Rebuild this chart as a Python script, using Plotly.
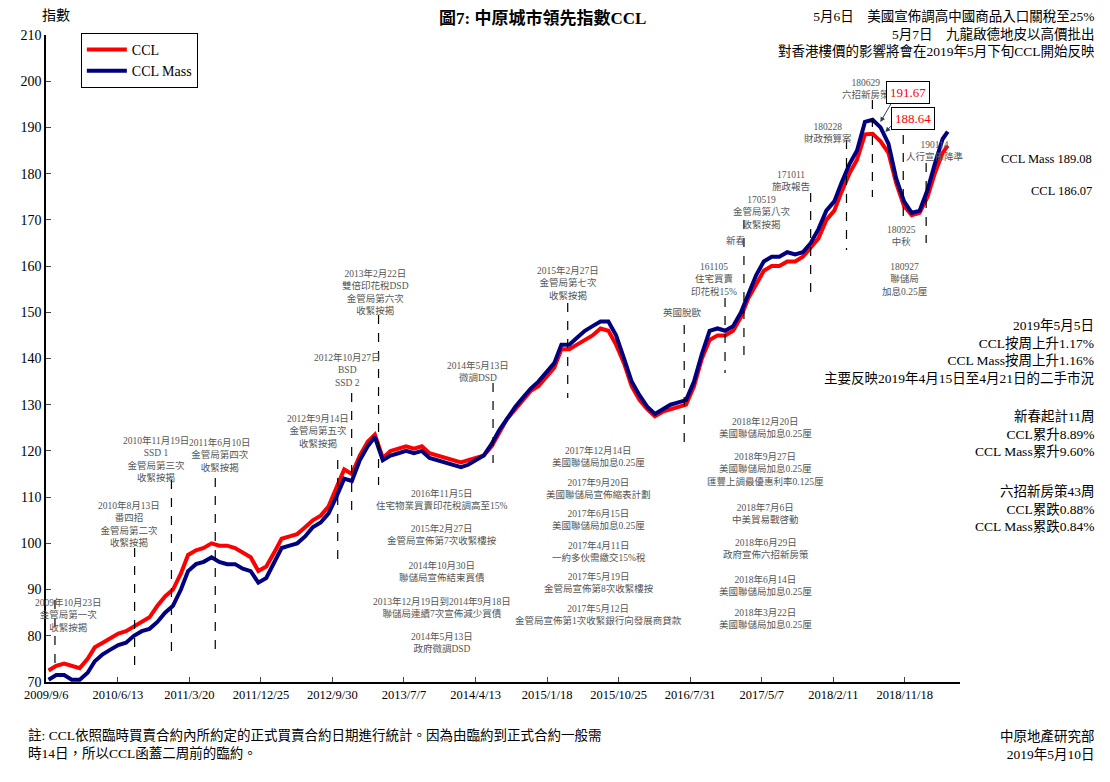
import pandas as pd
import plotly.graph_objects as go

# monthly readings (mid-month), last point is the week of 2019/5/5
months = list(pd.date_range("2009-09-01", "2019-04-01", freq="MS") + pd.Timedelta(days=14))
dates = months + [pd.Timestamp("2019-05-05")]

ccl = [72.5, 73.5, 74, 73.5,
       73, 75, 77.5, 78.5, 79.5, 80.5, 81, 82, 83, 84, 86.5, 88.5,
       90, 93.5, 97.5, 98.5, 99, 100, 99.5, 99.5, 99, 98, 97, 94,
       95, 98, 101, 101.5, 102, 103.5, 105, 106, 108, 112, 116, 115,
       119, 122, 123.5, 118.5, 120, 120.5, 121, 120.5, 121, 119.5, 119, 118.5,
       118, 117.5, 118, 118.5, 119, 121, 124, 127, 129, 131, 133, 134,
       136, 138, 142, 142, 143, 144, 145, 146.5, 146, 143, 139, 134,
       131, 129, 127.5, 128.5, 129, 129.5, 130, 134, 140, 144, 145, 145,
       146, 149, 153, 156, 159, 160, 160, 161, 161, 162, 164, 166,
       170, 172, 176, 180, 183, 188.5, 188.64, 187, 184.5, 178, 173, 171,
       171.5, 175, 180, 184.5, 186.07]

ccl_mass = [70.5, 71.5, 71.5, 70.5,
            70.5, 72, 74.5, 76, 77, 78, 78.5, 80, 81, 81.5, 83, 85,
            86.5, 90, 94, 95.5, 96, 97, 96, 95.5, 95.5, 94.5, 94, 91.5,
            92.5, 96, 99, 99.5, 100, 101.5, 103.5, 104.5, 106.5, 110, 114, 113.5,
            118, 121, 123, 118, 119, 119.5, 120, 119.5, 120, 118.5, 118, 117.5,
            117, 116.5, 117, 118, 119, 121.5, 124.5, 127, 129.5, 131.5, 133.5, 135,
            137, 139, 143, 143, 144.5, 146, 147, 148, 148, 145, 140, 135,
            132, 129.5, 128, 129, 130, 130.5, 131, 135, 141, 146, 146.5, 146,
            147, 150, 154, 158, 161, 162, 162, 163, 162.5, 163, 165, 168,
            172, 174, 178, 182, 185, 191.2, 191.67, 190, 186.5, 179, 174, 171.5,
            172, 176.5, 182, 187.5, 189.08]

tick_dates = ["2009-09-06", "2010-06-13", "2011-03-20", "2011-12-25", "2012-09-30",
              "2013-07-07", "2014-04-13", "2015-01-18", "2015-10-25", "2016-07-31",
              "2017-05-07", "2018-02-11", "2018-11-18"]
tick_text = ["2009/9/6", "2010/6/13", "2011/3/20", "2011/12/25", "2012/9/30",
             "2013/7/7", "2014/4/13", "2015/1/18", "2015/10/25", "2016/7/31",
             "2017/5/7", "2018/2/11", "2018/11/18"]

FONT = "Times New Roman, Liberation Serif, Noto Sans CJK TC"
GREY = "#555555"

# plot area in pixels (page has an 8px body margin)
L, R, T, B = 42, 960, 35, 682
PAD = 8


def px(x):
    return (x - L) / (R - L)


def py(y):
    return (B - y) / (B - T)


fig = go.Figure()
fig.add_trace(go.Scatter(x=dates, y=ccl, name="CCL", mode="lines",
                         line=dict(color="#ff0000", width=4)))
fig.add_trace(go.Scatter(x=dates, y=ccl_mass, name="CCL Mass", mode="lines",
                         line=dict(color="#000080", width=4)))

annotations = []


def note(x, y, text, size=10, color=GREY, align="center", xanchor="center"):
    annotations.append(dict(x=px(x), y=py(y), xref="paper", yref="paper", text=text,
                            showarrow=False, xanchor=xanchor, yanchor="top", align=align,
                            font=dict(size=size, color=color, family=FONT)))


# event labels (center x, top y)
events = [
    (65, 595, "2009年10月23日<br>金管局第一次<br>收緊按揭"),
    (125, 498, "2010年8月13日<br>番四招<br>金管局第二次<br>收緊按揭"),
    (152, 433, "2010年11月19日<br>SSD 1<br>金管局第三次<br>收緊按揭"),
    (216, 435, "2011年6月10日<br>金管局第四次<br>收緊按揭"),
    (315, 411, "2012年9月14日<br>金管局第五次<br>收緊按揭"),
    (345, 350, "2012年10月27日<br>BSD<br>SSD 2"),
    (373, 266, "2013年2月22日<br>雙倍印花稅DSD<br>金管局第六次<br>收緊按揭"),
    (476, 358, "2014年5月13日<br>微調DSD"),
    (566, 263, "2015年2月27日<br>金管局第七次<br>收緊按揭"),
    (681, 305, "英國脫歐"),
    (713, 260, "161105<br>住宅買賣<br>印花稅15%"),
    (735, 233, "新春"),
    (761, 193, "170519<br>金管局第八次<br>收緊按揭"),
    (790, 168, "171011<br>施政報告"),
    (827, 120, "180228<br>財政預算案"),
    (866, 76, "180629<br>六招新房策"),
    (901, 223, "180925<br>中秋"),
    (905, 260, "180927<br>聯儲局<br>加息0.25厘"),
    (935, 138, "190114<br>人行宣佈降準"),
    (440, 486, "2016年11月5日<br>住宅物業買賣印花稅調高至15%"),
    (440, 521, "2015年2月27日<br>金管局宣佈第7次收緊樓按"),
    (440, 558, "2014年10月30日<br>聯儲局宣佈結束買債"),
    (440, 594, "2013年12月19日到2014年9月18日<br>聯儲局連續7次宣佈減少買債"),
    (440, 629, "2014年5月13日<br>政府微調DSD"),
    (597, 443, "2017年12月14日<br>美國聯儲局加息0.25厘"),
    (597, 475, "2017年9月20日<br>美國聯儲局宣佈縮表計劃"),
    (597, 506, "2017年6月15日<br>美國聯儲局加息0.25厘"),
    (597, 538, "2017年4月11日<br>一約多伙需繳交15%稅"),
    (597, 569, "2017年5月19日<br>金管局宣佈第8次收緊樓按"),
    (597, 601, "2017年5月12日<br>金管局宣佈第1次收緊銀行向發展商貸款"),
    (765, 414, "2018年12月20日<br>美國聯儲局加息0.25厘"),
    (765, 449, "2018年9月27日<br>美國聯儲局加息0.25厘<br>匯豐上調最優惠利率0.125厘"),
    (765, 500, "2018年7月6日<br>中美貿易戰啓動"),
    (765, 535, "2018年6月29日<br>政府宣佈六招新房策"),
    (765, 572, "2018年6月14日<br>美國聯儲局加息0.25厘"),
    (765, 605, "2018年3月22日<br>美國聯儲局加息0.25厘"),
]
for x, y, t in events:
    note(x, y, t, size=9.5)

# dashed event lines (x, top, bottom)
event_lines = [(51, 600, 665), (131, 548, 667), (168, 480, 652), (212, 478, 650),
               (335, 460, 565), (349, 393, 518), (376, 315, 485), (491, 383, 463),
               (566, 303, 398), (683, 325, 448), (724, 298, 373), (743, 220, 358),
               (810, 193, 298), (846, 140, 250), (872, 100, 197), (903, 117, 217),
               (926, 163, 243)]
shapes = []
for x, y0, y1 in event_lines:
    shapes.append(dict(type="line", xref="paper", yref="paper", x0=px(x), x1=px(x),
                       y0=py(y0), y1=py(y1), line=dict(color="black", width=1.2, dash="dash")))

# callout boxes with arrows pointing at the peaks
for text, bx, by, tx, ty in [("191.67", 930, 81, 880, 122), ("188.64", 935, 107, 885, 132)]:
    annotations.append(dict(x=px(tx), y=py(ty), xref="paper", yref="paper",
                            ax=(bx - 26) - tx, ay=by - ty, axref="pixel", ayref="pixel",
                            showarrow=True, arrowhead=2, arrowsize=1, arrowwidth=1, text=""))
    annotations.append(dict(x=px(bx), y=py(by), xref="paper", yref="paper", text=text,
                            showarrow=False, bordercolor="black", borderwidth=1, borderpad=3,
                            bgcolor="white", font=dict(size=13, color="#ff0000", family=FONT)))


def fnote(x, y, text, size=13, xanchor="right", align="right", bold=False):
    if bold:
        text = "<b>" + text + "</b>"
    annotations.append(dict(x=px(x), y=py(y), xref="paper", yref="paper", text=text,
                            showarrow=False, xanchor=xanchor, yanchor="top", align=align,
                            font=dict(size=size, color="black", family=FONT)))


fnote(1098, 6, "5月6日　美國宣佈調高中國商品入口關稅至25%<br>5月7日　九龍啟德地皮以高價批出<br>對香港樓價的影響將會在2019年5月下旬CCL開始反映", size=13.5)
fnote(1095, 150, "CCL Mass 189.08", size=12.5)
fnote(1095, 182, "CCL 186.07", size=12.5)
fnote(1098, 316, "2019年5月5日<br>CCL按周上升1.17%<br>CCL Mass按周上升1.16%<br>主要反映2019年4月15日至4月21日的二手市況", size=13.5)
fnote(1098, 407, "新春起計11周<br>CCL累升8.89%<br>CCL Mass累升9.60%", size=13.5)
fnote(1098, 482, "六招新房策43周<br>CCL累跌0.88%<br>CCL Mass累跌0.84%", size=13.5)
fnote(1098, 726, "中原地產研究部<br>2019年5月10日", size=13.5)
fnote(22, 726, "註: CCL依照臨時買賣合約內所約定的正式買賣合約日期進行統計。因為由臨約到正式合約一般需<br>時14日，所以CCL函蓋二周前的臨約。", size=13.5, xanchor="left", align="left")
fnote(541, 6, "圖7: 中原城市領先指數CCL", size=17, xanchor="center", align="center", bold=True)
fnote(36, 6, "指數", size=14, xanchor="left", align="left")

fig.update_layout(
    width=1110, height=782,
    margin=dict(l=L - PAD, r=1110 - R + PAD, t=T - PAD, b=782 - B + PAD),
    plot_bgcolor="white", paper_bgcolor="white",
    font=dict(family=FONT, size=13, color="black"),
    showlegend=True,
    legend=dict(x=px(77), y=py(33), xanchor="left", yanchor="top",
                bordercolor="black", borderwidth=1, bgcolor="white",
                font=dict(size=14, family=FONT), itemwidth=40, tracegroupgap=8),
    xaxis=dict(range=["2009-09-05", "2019-06-22"], tickvals=tick_dates, ticktext=tick_text,
               showgrid=False, showline=True, linecolor="black", linewidth=1.5,
               ticks="inside", ticklen=5, tickfont=dict(size=12.5), zeroline=False),
    yaxis=dict(range=[70, 210], dtick=10, showgrid=False, showline=True, linecolor="black",
               linewidth=1.5, ticks="inside", ticklen=5, tickfont=dict(size=14), zeroline=False),
    annotations=annotations,
    shapes=shapes,
)

fig.write_html("out.html")
